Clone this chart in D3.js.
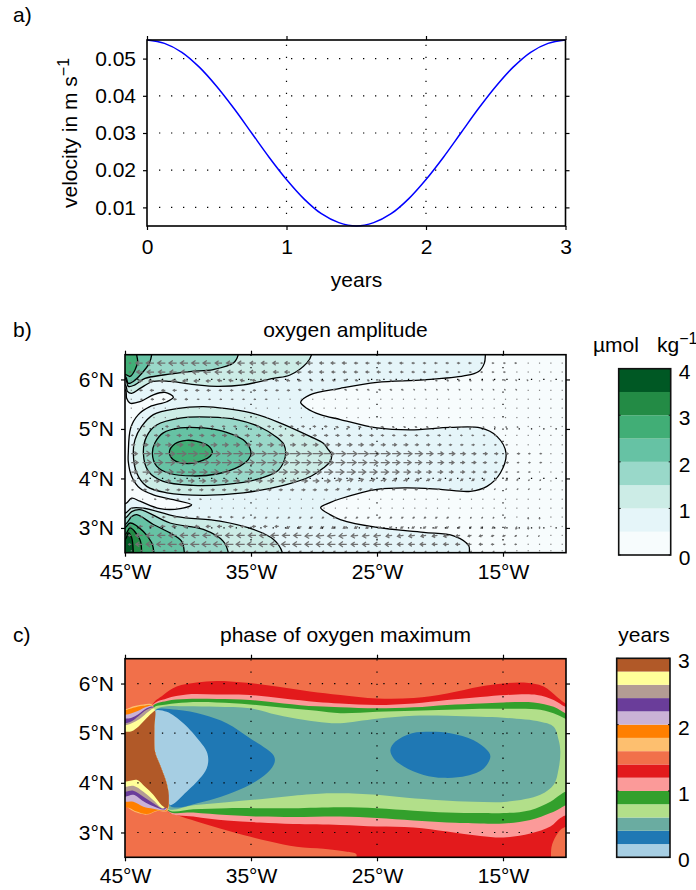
<!DOCTYPE html>
<html>
<head>
<meta charset="utf-8">
<script src="https://cdn.jsdelivr.net/npm/d3@7"></script>
<style>
body { margin: 0; background: #fff; }
text { font-family: "Liberation Sans", Arial, sans-serif; font-size: 21px; fill: #000; }
.tick line { stroke: #000; stroke-width: 1.2; }
</style>
</head>
<body>
<svg id="fig" width="696" height="890"></svg>
<script>
// panel a
const years = [0,0.125,0.25,0.375,0.5,0.625,0.75,0.875,1,1.125,1.25,1.375,1.5,1.625,1.75,1.875,2,2.125,2.25,2.375,2.5,2.625,2.75,2.875,3];
const velocity = [0.055,0.0541,0.0517,0.0477,0.0425,0.0365,0.03,0.0235,0.0175,0.0123,0.0083,0.0059,0.005,0.0059,0.0083,0.0123,0.0175,0.0235,0.03,0.0365,0.0425,0.0477,0.0517,0.0541,0.055];
const vTicks = [0.01,0.02,0.03,0.04,0.05];
const yearTicks = [0,1,2,3];

// shared map ticks
const lonTicks = [-45,-35,-25,-15];
const latTicks = [3,4,5,6];

// panel b colours, one per 0.5 step
const ampColors = ["#f7fcfd","#e5f5f9","#ccece6","#99d8c9","#66c2a4","#41ae76","#238b45","#005824"];
const ampTicks = [0,1,2,3,4];

// contours of oxygen amplitude, [lon, lat], with level index into ampColors
const ampOuter = [[-16.4,6.7],[-16.4,6.5],[-16.48,6.33],[-16.93,6.16],[-18.12,6.07],[-21.3,5.99],[-25,5.94],[-27.91,5.82],[-30.32,5.69],[-31.06,5.54],[-30.58,5.42],[-29.5,5.29],[-27.91,5.19],[-25,5.02],[-22.35,4.98],[-19.18,5.03],[-16.8,5.02],[-15.48,4.85],[-14.76,4.51],[-15.21,4.11],[-16.27,3.84],[-17.59,3.74],[-19.97,3.78],[-22.62,3.81],[-25,3.78],[-27.91,3.59],[-28.73,3.51],[-29.47,3.41],[-28.73,3.27],[-27.91,3.17],[-25,3.01],[-21.3,2.91],[-18.92,2.84],[-17.72,2.64],[-17.67,2.5],[-17.67,2.4],[-46,2.4],[-46,3.4],[-44.9,3.5],[-44.47,3.6],[-43.81,3.54],[-42.22,3.39],[-40.63,3.39],[-39.71,3.47],[-41.16,3.57],[-42.75,3.67],[-43.81,3.8],[-44.47,4.04],[-44.74,4.34],[-44.74,4.51],[-44.55,5.02],[-43.94,5.29],[-43.02,5.45],[-41.69,5.55],[-41.16,5.64],[-41.82,5.74],[-42.75,5.69],[-43.81,5.55],[-44.6,5.52],[-44.87,5.62],[-44.97,5.79],[-46,5.8],[-46,6.7]];
const ampNorth10 = [[-30.19,6.7],[-30.19,6.5],[-30.58,6.33],[-31.9,6.09],[-33.23,6.02],[-35.61,5.89],[-37.72,5.86],[-39.31,5.89],[-41.43,5.96],[-42.75,5.96],[-43.81,5.82],[-44.47,5.72],[-44.81,5.76],[-44.97,5.89],[-46,5.9],[-46,6.7]];
const ampNorth15 = [[-36.01,6.7],[-36.01,6.5],[-36.4,6.33],[-38,6.2],[-39.84,6.16],[-41.96,6.09],[-43.41,6.02],[-44.21,5.89],[-44.74,5.86],[-44.97,6.02],[-46,6.05],[-46,6.7]];
const ampNorth20 = [[-42.88,6.7],[-42.88,6.5],[-43.07,6.33],[-43.68,6.12],[-44.34,5.96],[-44.74,5.92],[-44.97,6.06],[-46,6.1],[-46,6.7]];
const ampNorth25 = [[-44.07,6.7],[-44.07,6.5],[-44.0,6.36],[-44.21,6.19],[-44.6,6.06],[-44.87,6.09],[-46,6.2],[-46,6.7]];
const ampSouth10 = [[-32.51,2.4],[-32.51,2.5],[-33.23,2.77],[-34.81,2.97],[-37.46,3.14],[-40.9,3.23],[-43.54,3.4],[-44.47,3.4],[-44.97,3.3],[-46,3.25],[-46,2.4]];
const ampSouth15 = [[-36.8,2.4],[-36.8,2.5],[-37.2,2.73],[-38.78,2.97],[-41.43,3.1],[-43.81,3.37],[-44.47,3.33],[-44.97,3.2],[-46,3.15],[-46,2.4]];
const ampSouth20 = [[-40.29,2.4],[-40.29,2.5],[-40.5,2.73],[-41.43,2.9],[-42.75,3.07],[-44.07,3.27],[-44.47,3.23],[-44.97,3.07],[-46,3.0],[-46,2.4]];
const ampSouth25 = [[-42.7,2.4],[-42.7,2.5],[-42.88,2.7],[-43.54,2.93],[-44.6,3.1],[-44.97,3.01],[-46,2.95],[-46,2.4]];
const ampSouth30 = [[-43.68,2.4],[-43.68,2.5],[-43.81,2.76],[-44.6,3.0],[-44.97,2.87],[-46,2.8],[-46,2.4]];
const ampSouth35 = [[-44.34,2.4],[-44.34,2.5],[-44.47,2.8],[-44.74,2.9],[-44.97,2.77],[-46,2.7],[-46,2.4]];
const ampEddy10 = [[-28.6,4.48],[-28.73,4.34],[-29.26,4.21],[-30.2,4.05],[-32.43,3.86],[-35.61,3.71],[-38.78,3.66],[-41.69,3.71],[-43.28,3.84],[-44.07,4.11],[-44.34,4.51],[-44.21,4.78],[-43.68,5.05],[-42.75,5.29],[-40.9,5.41],[-38.78,5.45],[-36.93,5.41],[-35.08,5.33],[-32.96,5.15],[-30.32,4.85],[-29.26,4.71],[-28.86,4.58]];
const ampEddy15 = [[-32.25,4.51],[-32.38,4.35],[-32.9,4.15],[-34.55,3.98],[-36.93,3.88],[-39.58,3.86],[-41.96,3.94],[-43.15,4.15],[-43.54,4.51],[-43.28,4.85],[-42.49,5.08],[-40.63,5.22],[-38.25,5.24],[-36.14,5.19],[-34.29,5.04],[-32.9,4.82],[-32.38,4.68]];
const ampEddy20 = [[-35,4.51],[-35.21,4.38],[-35.87,4.25],[-37.72,4.09],[-39.58,4.05],[-41.43,4.1],[-42.49,4.25],[-42.83,4.51],[-42.62,4.72],[-41.96,4.92],[-40.63,5.02],[-38.78,5.02],[-36.93,4.93],[-35.48,4.75]];
const ampEddy25 = [[-38.07,4.53],[-38.25,4.45],[-38.78,4.37],[-39.97,4.3],[-41.16,4.38],[-41.48,4.53],[-41.03,4.7],[-40.11,4.77],[-39.31,4.75],[-38.39,4.66]];
const ampContours = [
  [1, ampOuter], [2, ampNorth10], [3, ampNorth15], [4, ampNorth20], [5, ampNorth25],
  [2, ampSouth10], [3, ampSouth15], [4, ampSouth20], [5, ampSouth25], [6, ampSouth30], [7, ampSouth35],
  [2, ampEddy10], [3, ampEddy15], [4, ampEddy20], [5, ampEddy25]
];

// velocity arrows of panel b, columns west to east, rows north to south
const arrowLons = [-44.5,-43.6,-42.7,-41.8,-40.9,-40,-39.1,-38.2,-37.3,-36.4,-35.5,-34.6,-33.7,-32.8,-31.9,-31,-30.1,-29.2,-28.3,-27.4,-26.5,-25.6,-24.7,-23.8,-22.9,-22,-21.1,-20.2,-19.3,-18.4,-17.5,-16.6,-15.7,-14.8,-13.9,-13,-12.1,-11.2,-10.3];
const arrowLats = [6.33,6.15,5.97,5.78,5.6,5.42,5.23,5.05,4.87,4.68,4.5,4.32,4.13,3.95,3.77,3.58,3.4,3.22,3.03,2.85,2.67,2.54];
const arrowU = [
  [-2,-8,-9,-9,-9,-9,-9,-9,-8,-8,-8,-7,-7,-7,-6,-6,-6,-5,-5,-5,-4,-4,-4,-4,-4,-3,-3,-3,-3,-3,-3,-2,-2,-2,-2,-1,-1,-1,0],
  [-2,-7,-8,-8,-8,-8,-8,-8,-8,-7,-7,-7,-6,-6,-6,-5,-5,-5,-4,-4,-4,-4,-4,-3,-3,-3,-3,-3,-3,-2,-2,-2,-2,-2,-1,-1,-1,-1,0],
  [-1,-5,-6,-6,-6,-6,-6,-5,-5,-5,-5,-4,-4,-4,-4,-4,-3,-3,-3,-3,-3,-2,-2,-2,-2,-2,-2,-2,-2,-2,-2,-1,-1,-1,-1,-1,-1,-1,0],
  [-1,-3,-4,-4,-4,-4,-4,-4,-3,-3,-3,-3,-3,-3,-3,-3,-2,-2,-2,-2,-2,-2,-2,-2,-2,-1,-1,-1,-1,-1,-1,-1,-1,-1,-1,-1,-1,0,0],
  [0,-2,-3,-3,-3,-3,-2,-2,-2,-2,-2,-2,-2,-1,-1,-1,-1,-1,-1,-1,-1,-1,-1,-1,-1,-1,-1,-1,-1,-1,-1,-1,-1,0,0,0,0,0,0],
  [0,-1,-1,-1,-1,-1,-1,-1,-1,-1,0,0,0,0,0,0,0,0,0,0,0,0,0,0,0,0,0,0,0,0,0,0,0,0,0,0,0,0,0],
  [0,1,1,1,1,1,1,1,1,1,1,1,1,1,1,1,1,1,1,1,1,1,1,1,1,1,1,0,0,0,0,0,0,0,0,0,0,0,0],
  [1,2,2,3,3,3,3,3,3,3,3,3,3,3,3,3,3,3,3,3,3,3,3,2,2,2,2,2,2,2,1,1,1,1,1,1,1,1,0],
  [2,4,4,5,5,5,5,5,5,5,5,5,4,4,4,4,4,4,4,4,4,4,3,3,3,3,3,3,2,2,2,2,2,1,1,1,1,1,0],
  [4,6,7,7,7,7,7,7,7,7,7,7,7,6,6,6,6,6,6,6,6,5,5,5,5,4,4,4,3,3,3,2,2,2,1,1,1,1,0],
  [7,9,10,11,11,11,11,11,11,11,12,12,12,12,12,12,12,12,12,12,12,11,11,10,10,9,8,7,7,6,5,5,4,3,3,2,2,1,1],
  [8,10,10,11,11,11,11,11,11,11,11,11,11,11,11,11,11,11,11,11,10,10,10,9,9,8,7,7,6,5,5,4,3,3,2,2,2,1,1],
  [7,8,9,9,9,9,9,9,9,10,10,10,10,10,10,10,10,10,10,10,9,9,9,8,8,7,6,6,5,5,4,4,3,2,2,2,1,1,1],
  [5,6,6,6,7,7,7,7,7,7,7,7,7,7,7,7,7,7,7,7,6,6,6,5,5,5,4,4,3,3,3,2,2,2,1,1,1,1,0],
  [2,4,4,4,4,4,4,4,4,4,4,4,4,4,4,4,4,4,4,4,4,3,3,3,3,3,2,2,2,2,1,1,1,1,1,1,1,0,0],
  [0,1,2,2,2,2,2,1,1,1,1,1,1,1,1,1,1,1,1,1,1,1,1,1,1,0,0,0,0,0,0,0,0,0,0,0,0,0,0],
  [0,0,0,0,0,0,0,0,-1,-1,-1,-1,-1,-1,-1,-1,-1,-1,-1,-1,-1,-1,-1,-1,-1,-1,-1,-1,0,0,0,0,0,0,0,0,0,0,0],
  [-1,-2,-2,-3,-3,-3,-3,-3,-3,-3,-2,-2,-2,-2,-2,-2,-2,-2,-2,-2,-2,-2,-2,-2,-2,-2,-2,-2,-2,-1,-1,-1,-1,-1,0,0,0,0,0],
  [-2,-4,-5,-5,-5,-5,-5,-5,-5,-5,-4,-4,-4,-4,-4,-4,-4,-4,-4,-4,-4,-4,-3,-3,-3,-3,-3,-3,-3,-2,-2,-2,-2,-1,-1,0,0,0,0],
  [-3,-8,-9,-9,-9,-9,-9,-9,-9,-9,-9,-9,-9,-9,-9,-9,-9,-9,-9,-9,-8,-8,-8,-7,-7,-7,-6,-6,-6,-5,-4,-4,-3,-3,-2,-1,-1,-1,0],
  [-3,-8,-9,-10,-10,-10,-10,-10,-10,-10,-10,-10,-10,-10,-10,-10,-9,-9,-9,-9,-8,-8,-8,-8,-7,-7,-7,-6,-6,-5,-4,-4,-3,-2,-2,-1,-1,-1,0],
  [-1,-2,-2,-2,-2,-2,-2,-2,-2,-2,-2,-2,-2,-2,-2,-2,-2,-2,-2,-2,-2,-2,-2,-2,-1,-1,-1,-1,-1,-1,-1,-1,-1,-1,0,0,0,0,0]
];
const arrowV = [
  [0,0,0,0,0,0,0,0,0,0,0,0,0,0,0,0,0,0,0,0,0,0,0,0,0,0,0,0,0,0,0,0,0,0,0,0,0,0,0],
  [0,0,0,0,0,0,0,0,0,0,0,0,0,0,0,0,0,0,0,0,0,0,0,0,0,0,0,0,0,0,0,0,0,0,0,0,0,0,0],
  [0,0,0,0,0,0,0,0,1,1,1,1,1,1,1,1,1,1,1,1,1,1,1,1,1,1,1,1,1,1,1,1,1,1,1,1,0,0,0],
  [0,0,0,0,0,0,0,0,0,0,0,0,0,0,0,1,1,1,1,1,1,1,1,1,1,1,1,1,1,1,1,1,1,1,1,0,0,0,0],
  [0,0,0,0,0,0,0,0,0,0,0,0,0,0,0,0,0,0,0,0,0,0,0,0,0,0,0,0,0,0,0,0,0,0,0,0,0,0,0],
  [0,0,0,0,0,0,0,0,0,0,0,0,0,0,0,0,0,0,0,0,0,0,0,0,0,0,0,0,0,0,0,0,0,0,0,0,0,0,0],
  [0,0,0,0,0,0,0,0,0,0,0,0,0,0,0,0,0,0,0,0,0,0,0,0,0,0,0,0,0,0,0,0,0,0,0,0,0,0,0],
  [0,0,0,0,0,0,0,0,0,0,0,0,0,0,0,0,0,0,-1,-1,-1,-1,-1,-1,-1,-1,-1,-1,-1,-1,-1,-1,-1,-1,-1,0,0,0,0],
  [0,0,0,0,0,0,0,0,0,0,0,0,0,0,0,0,0,0,0,0,0,0,0,0,0,0,0,0,0,0,0,0,0,0,0,0,0,0,0],
  [0,0,0,0,0,0,0,0,0,0,0,0,0,0,0,0,0,0,0,0,0,0,0,0,0,0,0,0,0,0,0,0,0,0,0,0,0,0,0],
  [0,0,0,0,0,0,0,0,0,0,0,0,0,0,0,0,0,0,0,0,0,0,0,0,0,0,0,0,0,0,0,0,0,0,0,0,0,0,0],
  [0,0,0,0,0,0,0,0,0,0,0,0,0,0,0,0,0,0,0,0,0,0,0,0,0,0,0,0,0,0,0,0,0,0,0,0,0,0,0],
  [0,0,0,0,0,0,0,0,0,0,0,0,0,0,0,0,0,0,0,0,0,0,0,0,0,0,0,0,0,0,0,0,0,0,0,0,0,0,0],
  [0,0,0,0,0,0,0,0,0,0,0,0,0,0,0,0,0,0,2,2,2,2,2,2,2,2,2,2,2,2,2,2,2,2,2,1,1,0,0],
  [0,0,0,0,0,0,0,0,0,0,0,0,0,0,0,0,0,0,1,1,1,1,1,1,1,1,1,1,1,1,1,1,1,1,1,1,1,0,0],
  [0,0,0,0,0,0,0,0,0,0,0,0,0,0,0,0,0,0,0,0,0,0,0,0,0,0,0,0,0,0,0,0,0,0,0,0,0,0,0],
  [0,0,0,0,0,0,0,0,0,0,0,0,0,0,0,0,0,0,0,0,0,0,0,0,0,0,0,0,0,0,0,0,0,0,0,0,0,0,0],
  [0,0,0,0,0,0,0,0,0,0,-1,-1,-1,-1,-1,-1,-1,-1,-1,-1,-1,-1,-1,-1,-1,-1,-1,-1,-1,-1,-1,-1,-1,-1,-1,-2,-2,-1,0],
  [0,0,0,0,0,0,0,0,0,0,0,0,0,0,-2,-2,-2,-2,-2,-2,-2,-2,-2,-2,-2,-2,-2,-2,-2,-2,-2,-2,-2,-2,-3,-3,-2,-1,0],
  [0,0,0,0,0,0,0,0,0,0,0,0,0,0,0,0,-1,-1,-1,-1,-1,-1,-1,-1,-1,-1,-1,-1,-1,-1,-1,-1,-1,-1,-1,-1,-1,0,0],
  [0,0,0,0,0,0,0,0,0,0,0,0,0,0,0,0,0,0,0,0,0,0,0,0,0,0,0,0,0,0,0,0,0,0,0,0,0,0,0],
  [0,0,0,0,0,-2,-2,-2,-2,-2,-2,-2,-2,-2,-2,-2,-2,-2,-2,-2,-2,-2,-2,-2,-2,-2,-2,-2,-2,-2,-2,-2,-2,-2,-1,0,0,0,0]
];

// panel c colours, one per 0.2 year step
const phaseColors = ["#a6cee3","#1f78b4","#6aaca1","#b2df8a","#33a02c","#fb9a99","#e31a1c","#f1704a","#fdbf6f","#ff7f00","#cab2d6","#6a3d9a","#b39c94","#ffff99","#b15928"];
const phaseTicks = [0,1,2,3];

// phase bands, [lon, lat]
const phaseRed = [[-42.83,5.55],[-41.96,5.77],[-40.9,5.94],[-39.31,6.02],[-37.72,6.05],[-35.61,6.02],[-32.96,5.94],[-30.32,5.84],[-27.91,5.77],[-25,5.7],[-22.09,5.71],[-19.44,5.8],[-16.8,5.94],[-14.95,6.0],[-13.36,6.02],[-11.77,5.94],[-10.71,5.73],[-10.05,5.6],[-9.4,5.53],[-9.4,3.1],[-9.92,3.12],[-10.45,3.05],[-11.11,2.75],[-11.19,2.48],[-11.19,2.38],[-26.64,2.38],[-26.64,2.56],[-27.38,2.61],[-27.91,2.63],[-29.26,2.67],[-31.38,2.71],[-33.49,2.82],[-35.61,2.95],[-37.46,3.08],[-39.31,3.22],[-40.9,3.35],[-41.64,3.44],[-41.8,4.5]];
const phasePink = [[-42.83,5.55],[-41.69,5.7],[-40.11,5.78],[-37.72,5.78],[-35.08,5.77],[-32.43,5.7],[-29.79,5.63],[-27.91,5.6],[-25,5.57],[-22.09,5.6],[-19.44,5.67],[-16.8,5.73],[-14.68,5.77],[-12.3,5.77],[-10.98,5.67],[-10.05,5.53],[-9.4,5.47],[-9.4,3.3],[-9.97,3.35],[-10.45,3.29],[-11.24,3.12],[-12.83,2.98],[-14.95,2.9],[-16.8,2.93],[-19.44,3.02],[-22.09,3.1],[-25,3.12],[-27.91,3.15],[-31.64,3.17],[-34.29,3.2],[-36.93,3.24],[-39.58,3.32],[-41.64,3.44],[-41.8,4.5]];
const phaseGreen = [[-42.83,5.53],[-41.69,5.65],[-40.11,5.69],[-37.72,5.69],[-35.08,5.67],[-32.43,5.6],[-29.79,5.54],[-27.91,5.52],[-25,5.5],[-22.09,5.52],[-19.44,5.57],[-16.8,5.6],[-14.95,5.62],[-12.57,5.62],[-10.98,5.53],[-10.05,5.4],[-9.4,5.33],[-9.4,3.55],[-9.97,3.55],[-10.45,3.49],[-11.24,3.39],[-12.83,3.25],[-14.95,3.18],[-16.8,3.18],[-19.44,3.2],[-22.09,3.24],[-25,3.29],[-27.91,3.32],[-31.64,3.31],[-34.29,3.32],[-36.93,3.35],[-39.58,3.4],[-41.64,3.45],[-41.8,4.5]];
const phaseLightGreen = [[-42.75,5.5],[-41.69,5.58],[-40.11,5.62],[-37.72,5.62],[-35.08,5.58],[-32.43,5.51],[-29.79,5.45],[-27.91,5.4],[-25,5.43],[-22.09,5.45],[-19.44,5.47],[-16.8,5.49],[-14.95,5.49],[-12.04,5.47],[-10.71,5.37],[-10.05,5.29],[-9.4,5.2],[-9.4,3.75],[-9.97,3.82],[-10.45,3.76],[-11.24,3.62],[-12.83,3.45],[-14.95,3.39],[-16.8,3.39],[-19.44,3.4],[-22.09,3.44],[-25,3.49],[-27.91,3.51],[-31.64,3.49],[-34.29,3.49],[-36.93,3.49],[-39.58,3.47],[-41.64,3.47],[-41.8,4.5]];
const phaseTeal = [[-42.62,5.45],[-41.69,5.54],[-40.11,5.54],[-37.72,5.53],[-35.08,5.5],[-32.96,5.37],[-30.85,5.27],[-29,5.21],[-27.91,5.2],[-25,5.29],[-22.09,5.35],[-19.44,5.35],[-16.8,5.33],[-14.95,5.31],[-12.04,5.23],[-10.98,5.13],[-10.58,4.86],[-10.45,4.63],[-10.58,4.29],[-10.98,3.96],[-12.04,3.76],[-14.68,3.62],[-17.33,3.62],[-19.97,3.65],[-22.62,3.7],[-25,3.76],[-27.91,3.79],[-29,3.79],[-31.64,3.74],[-34.29,3.67],[-36.93,3.61],[-39.58,3.55],[-41.64,3.49],[-41.8,4.5]];
const phaseBlueWest = [[-42.62,5.45],[-40.9,5.47],[-38.78,5.37],[-36.93,5.2],[-35.08,4.9],[-33.76,4.68],[-33.23,4.56],[-33.1,4.46],[-33.23,4.35],[-33.76,4.19],[-35.08,3.96],[-36.93,3.76],[-38.78,3.62],[-41.43,3.54],[-41.2,4.5]];
const phaseBlueEast = [[-23.94,4.66],[-23.54,4.83],[-22.22,5.0],[-20.77,5.03],[-19.18,5.0],[-17.33,4.86],[-16.27,4.66],[-16.0,4.53],[-16.53,4.29],[-17.86,4.14],[-19.71,4.1],[-21.3,4.16],[-22.88,4.33],[-23.68,4.49]];
const phaseLightBlue = [[-42.62,5.45],[-41.69,5.43],[-40.37,5.2],[-39.05,4.83],[-38.52,4.63],[-38.39,4.46],[-38.52,4.29],[-39.05,4.09],[-40.11,3.82],[-41.43,3.55],[-41.56,3.82],[-41.82,4.09],[-42.22,4.36],[-42.62,4.63],[-42.67,5.1]];
const westEdge = [[-42.67,5.1],[-42.62,4.63],[-42.22,4.36],[-41.82,4.09],[-41.56,3.82]];
// upper and lower boundaries of the bands at the western wall
const lightOrangeTop = [[-46,5.5],[-45,5.48],[-44.34,5.54],[-43.54,5.58],[-42.83,5.57]];
const lightOrangeLow = [[-41.64,3.44],[-42.49,3.43],[-43.28,3.36],[-44.07,3.4],[-44.6,3.47],[-45,3.54],[-46,3.56]];
const orangeTop = [[-46,5.46],[-45,5.46],[-44.34,5.51],[-43.54,5.55],[-42.83,5.55]];
const orangeLow = [[-41.69,3.45],[-42.49,3.44],[-43.28,3.37],[-44.07,3.42],[-44.6,3.49],[-45,3.51],[-46,3.52]];
const lilacTop = [[-46,5.37],[-45,5.37],[-44.47,5.4],[-43.94,5.45],[-43.28,5.53],[-42.8,5.54]];
const lilacLow = [[-41.74,3.46],[-42.75,3.48],[-43.54,3.52],[-44.34,3.62],[-45,3.62],[-46,3.62]];
const purpleTop = [[-46,5.29],[-45,5.29],[-44.47,5.31],[-43.94,5.38],[-43.28,5.5],[-42.8,5.53]];
const purpleLow = [[-41.82,3.47],[-42.75,3.53],[-43.54,3.63],[-44.34,3.76],[-45,3.72],[-46,3.72]];
const taupeTop = [[-46,5.2],[-45,5.2],[-44.47,5.24],[-43.94,5.34],[-43.28,5.47],[-42.75,5.51]];
const taupeLow = [[-41.9,3.48],[-42.75,3.59],[-43.54,3.72],[-44.34,3.84],[-45,3.82],[-46,3.82]];
const yellowTop = [[-46,5.16],[-45,5.16],[-44.47,5.2],[-43.81,5.29],[-43.15,5.43],[-42.7,5.5]];
const yellowLow = [[-41.96,3.49],[-42.75,3.65],[-43.54,3.82],[-44.34,3.94],[-45,3.92],[-46,3.92]];
const brownTop = [[-46,5.03],[-45,5.03],[-44.47,5.04],[-43.94,5.13],[-43.41,5.27],[-42.88,5.4],[-42.62,5.45]];
const brownLow = [[-41.64,3.49],[-42.09,3.55],[-42.75,3.76],[-43.41,3.92],[-44.07,4.06],[-44.6,4.04],[-45,4.02],[-46,4.02]];
const phaseBands = [
  [6, phaseRed], [5, phasePink], [4, phaseGreen], [3, phaseLightGreen], [2, phaseTeal],
  [1, phaseBlueWest], [1, phaseBlueEast], [0, phaseLightBlue],
  [8, lightOrangeTop.concat(westEdge, lightOrangeLow)],
  [9, orangeTop.concat(westEdge, orangeLow)],
  [10, lilacTop.concat(westEdge, lilacLow)],
  [11, purpleTop.concat(westEdge, purpleLow)],
  [12, taupeTop.concat(westEdge, taupeLow)],
  [13, yellowTop.concat(westEdge, yellowLow)],
  [14, brownTop.concat(westEdge, brownLow)]
];

const svg = d3.select("#fig");

function frame(g, x, y) {
  g.append("rect")
    .attr("x", x.range()[0]).attr("y", y.range()[1])
    .attr("width", x.range()[1] - x.range()[0])
    .attr("height", y.range()[0] - y.range()[1])
    .attr("fill", "none").attr("stroke", "#000").attr("stroke-width", 1.6);
}

function axes(x, y, xTicks, yTicks, xFormat, yFormat, tickPad) {
  const x0 = x.range()[0], x1 = x.range()[1], y0 = y.range()[0], y1 = y.range()[1];
  const bottom = svg.append("g").attr("transform", "translate(0," + y0 + ")")
    .call(d3.axisBottom(x).tickValues(xTicks).tickSize(4).tickPadding(tickPad).tickFormat(xFormat));
  const top = svg.append("g").attr("transform", "translate(0," + y1 + ")")
    .call(d3.axisTop(x).tickValues(xTicks).tickSize(4).tickFormat(""));
  const left = svg.append("g").attr("transform", "translate(" + x0 + ",0)")
    .call(d3.axisLeft(y).tickValues(yTicks).tickSize(4).tickPadding(7).tickFormat(yFormat));
  const right = svg.append("g").attr("transform", "translate(" + x1 + ",0)")
    .call(d3.axisRight(y).tickValues(yTicks).tickSize(4).tickFormat(""));
  [bottom, top, left, right].forEach(function(a) {
    a.select(".domain").remove();
    a.attr("font-family", null).attr("font-size", null);
  });
}

function dots(x, y, xGrid, yGrid, step) {
  const g = svg.append("g").attr("stroke", "#000").attr("stroke-width", 1.2)
    .attr("stroke-dasharray", "1.3," + (step - 1.3));
  xGrid.forEach(function(v) {
    g.append("line").attr("x1", x(v)).attr("x2", x(v))
      .attr("y1", y.range()[0] - step).attr("y2", y.range()[1]);
  });
  yGrid.forEach(function(v) {
    g.append("line").attr("y1", y(v)).attr("y2", y(v))
      .attr("x1", x.range()[0] + step).attr("x2", x.range()[1]);
  });
}

function colorbar(colors, max, ticks, x0, x1, y0, y1) {
  const y = d3.scaleLinear().domain([0, max]).range([y0, y1]);
  const dv = max / colors.length;
  svg.append("g").selectAll("rect").data(colors).join("rect")
    .attr("x", x0).attr("width", x1 - x0)
    .attr("y", (c, i) => y((i + 1) * dv))
    .attr("height", (c, i) => y(i * dv) - y((i + 1) * dv))
    .attr("fill", d => d);
  svg.append("rect").attr("x", x0).attr("y", y1).attr("width", x1 - x0).attr("height", y0 - y1)
    .attr("fill", "none").attr("stroke", "#111").attr("stroke-width", 1.6);
  const inner = svg.append("g").attr("transform", "translate(" + x1 + ",0)")
    .call(d3.axisRight(y).tickValues(ticks).tickSize(0).tickPadding(8).tickFormat(d3.format("d")));
  inner.select(".domain").remove();
  inner.attr("font-family", null).attr("font-size", null);
  inner.selectAll("text").attr("dy", "0.45em");
  const marks = svg.append("g").attr("stroke", "#111").attr("stroke-width", 1);
  ticks.forEach(function(t) {
    marks.append("line").attr("x1", x0).attr("x2", x0 + 2).attr("y1", y(t)).attr("y2", y(t));
    marks.append("line").attr("x1", x1 - 2).attr("x2", x1).attr("y1", y(t)).attr("y2", y(t));
  });
}

function label(x, y, s, anchor) {
  return svg.append("text").attr("x", x).attr("y", y).attr("text-anchor", anchor || "start").text(s);
}

// --- a) ---
const xA = d3.scaleLinear().domain([0, 3]).range([147, 565.5]);
const yA = d3.scaleLinear().domain([0.005, 0.055]).range([226, 40]);
dots(xA, yA, [1, 2], vTicks, 12);
svg.append("path").datum(d3.zip(years, velocity))
  .attr("fill", "none").attr("stroke", "#0000ff").attr("stroke-width", 1.5)
  .attr("d", d3.line().x(d => xA(d[0])).y(d => yA(d[1])).curve(d3.curveCatmullRom.alpha(0.5)));
frame(svg, xA, yA);
axes(xA, yA, yearTicks, vTicks, d3.format("d"), d3.format(".2f"), 9);
label(13, 22, "a)");
label(356.5, 287, "years", "middle");
const yTitle = label(77, 208, "velocity in m s").attr("transform", "rotate(-90 77 208)");
yTitle.append("tspan").attr("dy", -8).style("font-size", "16px").text("\u22121");

// --- b) and c) share the same map frame ---
const xB = d3.scaleLinear().domain([-45, -10]).range([125, 566]);
const yB = d3.scaleLinear().domain([2.5, 6.5]).range([552.7, 354.7]);
const xC = xB;
const yC = d3.scaleLinear().domain([2.5, 6.5]).range([857.3, 658.7]);
const lonFormat = d => Math.abs(d) + "\u00b0W";
const latFormat = d => d + "\u00b0N";

const defs = svg.append("defs");
defs.append("clipPath").attr("id", "clipB").append("rect")
  .attr("x", 125).attr("y", 354.7).attr("width", 441).attr("height", 198);
defs.append("clipPath").attr("id", "clipC").append("rect")
  .attr("x", 125).attr("y", 658.7).attr("width", 441).attr("height", 198.6);

const ampG = svg.append("g").attr("clip-path", "url(#clipB)");
ampG.append("rect").attr("x", 125).attr("y", 354.7).attr("width", 441).attr("height", 198).attr("fill", ampColors[0]);
const lineB = d3.line().x(d => xB(d[0])).y(d => yB(d[1])).curve(d3.curveCatmullRomClosed.alpha(0.5));
ampContours.forEach(function(c) {
  ampG.append("path").attr("d", lineB(c[1]))
    .attr("fill", ampColors[c[0]]).attr("stroke", "#000").attr("stroke-width", 1.3);
});

// arrows
const arrowLen = d3.scaleLinear().domain([0, 1]).range([0, 0.85]);
const arrowG = ampG.append("g").attr("fill", "none").attr("stroke", "#707070").attr("stroke-width", 1.25);
arrowLats.forEach(function(lat, r) {
  arrowLons.forEach(function(lon, c) {
    const dx = arrowLen(arrowU[r][c]), dy = -arrowLen(arrowV[r][c]);
    const len = Math.sqrt(dx * dx + dy * dy);
    const px = xB(lon), py = yB(lat);
    if (len < 1) {
      arrowG.append("rect").attr("x", px - 0.6).attr("y", py - 0.6).attr("width", 1.2).attr("height", 1.2)
        .attr("fill", "#808080").attr("stroke", "none");
      return;
    }
    const p = d3.path();
    const ex = px + dx, ey = py + dy;
    const ux = dx / len, uy = dy / len;
    const h = Math.min(4, len * 0.5);
    p.moveTo(px, py);
    p.lineTo(ex, ey);
    p.moveTo(ex - h * ux - h * 0.7 * uy, ey - h * uy + h * 0.7 * ux);
    p.lineTo(ex, ey);
    p.lineTo(ex - h * ux + h * 0.7 * uy, ey - h * uy - h * 0.7 * ux);
    arrowG.append("path").attr("d", p.toString());
  });
});
dots(xB, yB, [-35, -25, -15], latTicks, 12.3);
frame(svg, xB, yB);
axes(xB, yB, lonTicks, latTicks, lonFormat, latFormat, 7);
label(13, 337, "b)");
label(345.5, 337, "oxygen amplitude", "middle");
label(593, 352, "\u00b5mol");
const kg = label(657, 352, "kg");
kg.append("tspan").attr("dy", -8).style("font-size", "16px").text("\u22121");
colorbar(ampColors, 4, ampTicks, 618.7, 670.7, 555, 368.7);

// --- c) ---
const phaseG = svg.append("g").attr("clip-path", "url(#clipC)");
phaseG.append("rect").attr("x", 125).attr("y", 658.7).attr("width", 441).attr("height", 198.6).attr("fill", phaseColors[7]);
const lineC = d3.line().x(d => xC(d[0])).y(d => yC(d[1])).curve(d3.curveCatmullRomClosed.alpha(0.5));
phaseBands.forEach(function(b) {
  phaseG.append("path").attr("d", lineC(b[1])).attr("fill", phaseColors[b[0]]);
});
dots(xC, yC, [-35, -25, -15], latTicks, 12.3);
frame(svg, xC, yC);
axes(xC, yC, lonTicks, latTicks, lonFormat, latFormat, 7);
label(13, 642, "c)");
label(345.5, 642, "phase of oxygen maximum", "middle");
label(644, 642, "years", "middle");
colorbar(phaseColors, 3, phaseTicks, 616.7, 670, 857.3, 658.3);
</script>
</body>
</html>
